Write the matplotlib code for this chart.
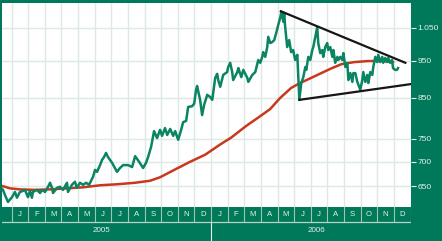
"""
Price chart 2005-2006 with moving average and triangle trend lines
"""
import matplotlib
matplotlib.use('Agg')
import matplotlib.pyplot as plt
from matplotlib.ticker import NullLocator

plt.rcParams['font.family'] = ['Liberation Sans', 'DejaVu Sans']

# price (months since Jan 2005, value)
price_m = [-0.70, -0.52, -0.40, -0.22, 0.02, 0.20, 0.32, 0.50, 0.68, 0.80,
           0.98, 1.10, 1.22, 1.28, 1.40, 1.52, 1.71, 1.83, 2.01, 2.19,
           2.31, 2.43, 2.49, 2.73, 2.91, 3.09, 3.33, 3.39, 3.63, 3.81,
           3.93, 4.11, 4.30, 4.48, 4.66, 4.90, 5.02, 5.14, 5.32, 5.44,
           5.56, 5.68, 5.80, 6.04, 6.34, 6.52, 6.71, 7.01, 7.25, 7.43,
           7.67, 7.91, 8.09, 8.21, 8.39, 8.57, 8.75, 8.93, 9.05, 9.23,
           9.36, 9.54, 9.72, 9.84, 10.02, 10.20, 10.32, 10.50, 10.62, 10.86,
           10.98, 11.10, 11.16, 11.34, 11.46, 11.58, 11.77, 11.95, 12.07, 12.25,
           12.37, 12.43, 12.55, 12.73, 12.97, 13.03, 13.15, 13.27, 13.33, 13.58,
           13.64, 13.82, 13.94, 14.18, 14.24, 14.48, 14.66, 14.84, 14.96, 15.08,
           15.14, 15.26, 15.38, 15.44, 15.56, 15.68, 15.80, 15.92, 16.04, 16.17,
           16.23, 16.35, 16.40, 16.46, 16.58, 16.70, 16.82, 16.94, 17.06, 17.19,
           17.25, 17.31, 17.43, 17.55, 17.67, 17.73, 17.85, 17.97, 18.09, 18.15,
           18.27, 18.39, 18.45, 18.57, 18.69, 18.75, 18.87, 18.99, 19.05, 19.17,
           19.30, 19.36, 19.47, 19.60, 19.66, 19.78, 19.90, 19.96, 20.08, 20.20,
           20.26, 20.38, 20.50, 20.56, 20.68, 20.80, 20.98, 21.10, 21.16, 21.28,
           21.40, 21.46, 21.58, 21.70, 21.76, 21.88, 22.00, 22.06, 22.18, 22.30,
           22.36, 22.48, 22.59, 22.66, 22.77, 22.89, 22.95, 23.07, 23.19, 23.25]
price_v = [649, 643, 633, 620, 629, 639, 628, 639, 641, 643,
           629, 641, 628, 639, 641, 643, 637, 643, 639, 649,
           657, 647, 637, 647, 649, 643, 657, 639, 653, 659,
           647, 657, 653, 657, 653, 669, 683, 679, 693, 704,
           710, 719, 710, 698, 679, 687, 693, 693, 689, 712,
           700, 687, 698, 710, 732, 768, 752, 771, 757, 775,
           759, 773, 757, 768, 748, 771, 789, 792, 826, 828,
           834, 870, 880, 844, 806, 831, 857, 851, 844, 902,
           913, 896, 878, 910, 918, 932, 944, 918, 896, 918,
           929, 904, 924, 902, 891, 910, 918, 952, 944, 961,
           975, 961, 990, 1021, 1002, 1005, 1011, 1033, 1058, 1084,
           1101, 1068, 1097, 1052, 990, 1011, 975, 981, 952, 967,
           904, 844, 888, 904, 932, 924, 961, 952, 981, 990,
           1021, 1052, 1002, 972, 981, 961, 990, 1002, 981, 990,
           961, 981, 944, 961, 952, 961, 952, 972, 932, 944,
           896, 915, 891, 915, 915, 891, 870, 896, 918, 891,
           910, 888, 918, 910, 932, 961, 946, 967, 946, 961,
           944, 958, 946, 958, 944, 952, 929, 924, 924, 929]

# moving average
ma_m = [-0.70, -0.10, 0.50, 1.40, 2.31, 3.33, 4.30, 5.32, 6.34, 7.43,
        8.33, 8.93, 9.84, 10.74, 11.64, 12.61, 13.21, 14.11, 14.84, 15.56,
        16.16, 16.82, 17.31, 18.03, 18.63, 19.23, 19.84, 20.62, 21.46, 22.24,
        22.96]
ma_v = [652, 646, 644, 643, 644, 646, 648, 652, 654, 657,
        661, 668, 684, 700, 715, 739, 753, 780, 800, 821,
        849, 875, 887, 902, 915, 928, 940, 946, 949, 949,
        946]

# triangle trend lines
upper_m = [16.20, 23.69]
upper_v = [1103, 944]
lower_m = [17.31, 24.00]
lower_v = [844, 885]

yticks = [650, 700, 750, 850, 950, 1050]
ytick_labels = ['650', '700', '750', '850', '950', '1.050']
months = ['J', 'F', 'M', 'A', 'M', 'J', 'J', 'A', 'S', 'O', 'N', 'D'] * 2
years = ['2005', '2006']
year_pos = [5.38, 18.33]

BG = '#00795a'
GRID = '#dde9e4'
TXT = '#e6f0eb'

fig = plt.figure(figsize=(4.42, 2.41), dpi=100, facecolor=BG)
W, H = 442.0, 241.0
ax = fig.add_axes([1.5 / W, 34 / H, 409 / W, 204.5 / H])
ax.set_facecolor('white')
ax.set_yscale('log')
ax.set_xlim(-0.61, 24.0)
ax.set_ylim(610.6, 1132.6)

for m in range(0, 25):
    ax.axvline(m, color=GRID, lw=1.0, zorder=1)
for t in yticks:
    ax.axhline(t, color=GRID, lw=1.0, zorder=1)

ax.plot(ma_m, ma_v, color='#c8381c', lw=1.8, zorder=3, solid_capstyle='round')
ax.plot(price_m, price_v, color='#0a8462', lw=1.8, zorder=4)
ax.plot(upper_m, upper_v, color='#161616', lw=1.6, zorder=5)
ax.plot(lower_m, lower_v, color='#161616', lw=1.6, zorder=5)

ax.yaxis.tick_right()
ax.set_yticks(yticks)
ax.set_yticklabels(ytick_labels)
ax.yaxis.set_minor_locator(NullLocator())
ax.tick_params(axis='y', which='major', direction='out', length=3.6, width=0.8,
               color=TXT, labelcolor=TXT, labelsize=6, pad=1.6)
ax.set_xticks([])
for s in ax.spines.values():
    s.set_visible(False)

# month / year band
axb = fig.add_axes([1.5 / W, 0, 409 / W, 34 / H])
axb.set_xlim(-0.61, 24.0)
axb.set_ylim(0, 34)
axb.axis('off')
axb.patch.set_visible(False)
for m in range(0, 25):
    axb.plot([m, m], [19, 34], color='#9fc3b2', lw=0.8)
axb.plot([-0.61, 24.0], [19, 19], color='#b8d3c6', lw=0.9)
axb.plot([12, 12], [0, 19], color=TXT, lw=0.8)
for i, lab in enumerate(months):
    axb.text(i + 0.5, 26.5, lab, color=TXT, fontsize=5.6, ha='center', va='center')
for x, lab in zip(year_pos, years):
    axb.text(x, 10, lab, color=TXT, fontsize=5.8, ha='center', va='center')

plt.savefig('out.png', dpi=100, facecolor=BG)
